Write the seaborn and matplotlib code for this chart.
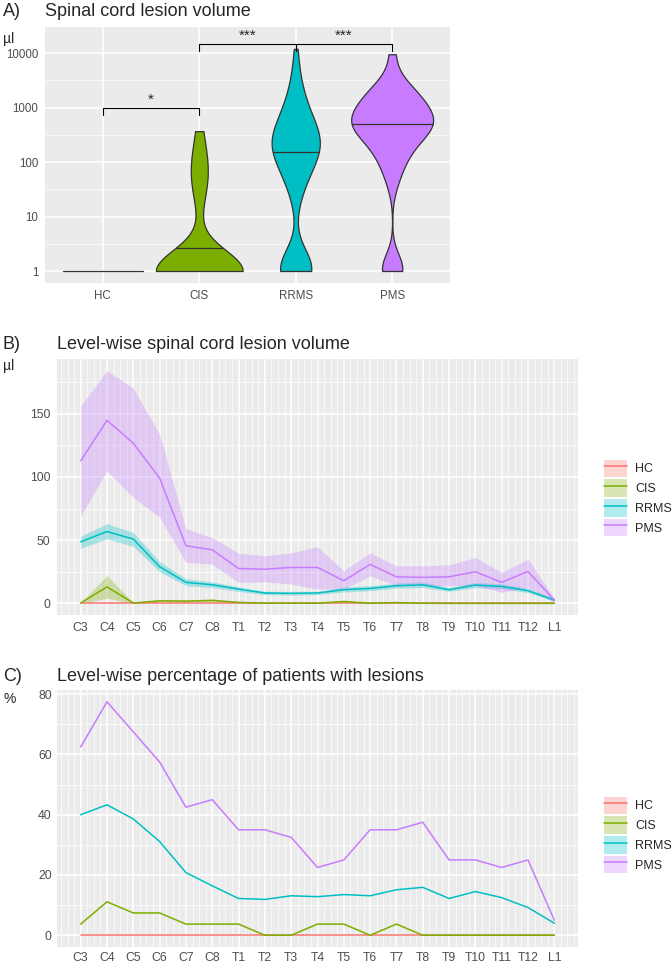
import numpy as np
import pandas as pd
import matplotlib
matplotlib.use("Agg")
import matplotlib.pyplot as plt
import seaborn as sns
from matplotlib.patches import Patch
from matplotlib.lines import Line2D
from matplotlib.ticker import FixedLocator, NullFormatter, FixedFormatter

# ================== DATA ==================
groups = ["HC", "CIS", "RRMS", "PMS"]
group_colors = ["#F8766D", "#7CAE00", "#00BFC4", "#C77CFF"]

# A) total lesion volume per patient (µl, shown on log axis)
hc_vol = [1, 1, 1, 1, 1, 1, 1, 1, 1, 1, 1, 1, 1, 1, 1, 1, 1, 1, 1, 1]
cis_vol = [1, 1, 1, 1, 1, 1, 1, 1, 1, 1, 1, 1, 1, 1, 1, 1, 1, 1, 1, 1, 1,
           22, 40, 63, 90, 140, 370]
rrms_vol = [1, 1, 1, 1, 1, 1, 1, 1, 1, 1, 1, 1, 1, 1, 1, 1, 1.3, 1.5, 1.5, 2, 2,
            18, 25, 32, 38, 45, 50, 56, 63, 70, 80, 85, 90, 100, 105,
            115, 125, 130, 140, 150, 160, 165, 175, 180, 190, 200, 210, 220,
            230, 240, 250, 265, 275, 290, 300, 315, 330, 355, 380, 405, 435,
            470, 500, 550, 600, 660, 720, 800, 900, 1000, 1100, 1250, 1500,
            1800, 2200, 2800, 4000, 6300, 12000]
pms_vol = [1, 1, 1, 1.5,
           40, 70, 100, 125, 160, 200, 240, 280, 315, 355, 400, 425, 455, 490,
           525, 560, 600, 645, 710, 795, 890, 1000, 1120, 1260, 1410, 1585,
           1800, 2100, 2500, 3000, 9550]
vol_medians = [1, 2.7, 150, 500]

sig_pairs = [("HC", "CIS"), ("CIS", "RRMS"), ("RRMS", "PMS")]
sig_labels = ["*", "***", "***"]
sig_levels = [1000, 15000, 15000]

# B) / C) level-wise values
levels = ["C3", "C4", "C5", "C6", "C7", "C8", "T1", "T2", "T3", "T4", "T5",
          "T6", "T7", "T8", "T9", "T10", "T11", "T12", "L1"]

hc_mean = [0, 0, 0, 0, 0, 0, 0, 0, 0, 0, 0, 0, 0, 0, 0, 0, 0, 0, 0]
hc_lo = [0, 0, 0, 0, 0, 0, 0, 0, 0, 0, 0, 0, 0, 0, 0, 0, 0, 0, 0]
hc_hi = [0, 0, 0, 0, 0, 0, 0, 0, 0, 0, 0, 0, 0, 0, 0, 0, 0, 0, 0]

cis_mean = [0.3, 13, 0.3, 2, 1.8, 2.3, 0.8, 0.1, 0.1, 0.1, 1.5, 0.1, 0.6, 0.1, 0, 0, 0, 0, 0]
cis_lo = [0, 4, 0, 1, 1, 1.5, 0.3, 0, 0, 0, 0.5, 0, 0.1, 0, 0, 0, 0, 0, 0]
cis_hi = [0.6, 22, 0.6, 3, 2.8, 3.5, 1.3, 0.2, 0.2, 0.2, 2.5, 0.2, 1.2, 0.2, 0, 0, 0, 0, 0]

rrms_mean = [48.7, 56.8, 50.8, 29, 16.6, 14.7, 11.3, 8.2, 7.9, 8.2, 10.8, 11.8,
             13.9, 14.7, 10.8, 14.5, 13.4, 10, 2.6]
rrms_lo = [43.5, 51, 45, 25, 14, 12.5, 9.5, 7, 6.5, 7, 9, 10, 12, 12.5, 9.5, 12.5, 11.5, 8.5, 1.5]
rrms_hi = [53, 63, 56, 33, 19.5, 17, 13, 9.5, 9.5, 9.5, 13, 14, 16, 17, 12.5, 16.5, 15.5, 12, 3.5]

pms_mean = [112.6, 144.7, 126.6, 99, 45.5, 42.4, 27.6, 27, 28.4, 28.4, 17.9, 30.8,
            21, 20.5, 21, 25, 16.6, 25.3, 2.6]
pms_lo = [69, 104.7, 83.7, 68, 32.4, 31, 16.6, 17, 15.3, 11.3, 11.3, 21.8, 14, 14,
          14, 14, 8.7, 12.6, 0.8]
pms_hi = [156, 184, 170, 133.7, 59, 52, 39.7, 37.6, 40, 44.7, 25.8, 40, 29.7, 29.7,
          30.5, 36.3, 24.5, 35, 4]

hc_pct = [0, 0, 0, 0, 0, 0, 0, 0, 0, 0, 0, 0, 0, 0, 0, 0, 0, 0, 0]
cis_pct = [3.7, 11.1, 7.4, 7.4, 3.7, 3.7, 3.7, 0, 0, 3.7, 3.7, 0, 3.7, 0, 0, 0, 0, 0, 0]
rrms_pct = [40, 43.3, 38.6, 31.1, 20.8, 16.4, 12.2, 11.9, 13.1, 12.8, 13.5, 13.1,
            15.1, 15.9, 12.2, 14.5, 12.5, 9.2, 4]
pms_pct = [62.5, 77.5, 67.5, 57.5, 42.5, 45, 35, 35, 32.5, 22.5, 25, 35, 35, 37.5,
           25, 25, 22.5, 25, 5]

# ================== STYLE ==================
sns.set_theme(style="darkgrid")
plt.rcParams["font.family"] = ["Liberation Sans", "DejaVu Sans"]

W, H = 672, 965
fig = plt.figure(figsize=(W / 100, H / 100), dpi=100)


def box(left, top, right, bottom):
    return [left / W, 1 - bottom / H, (right - left) / W, (bottom - top) / H]


def fpos(x, y):
    return (x / W, 1 - y / H)


def style_axes(ax, size, pad=2):
    ax.set_facecolor("#EBEBEB")
    for s in ax.spines.values():
        s.set_visible(False)
    ax.grid(which="major", color="white", lw=1.1)
    ax.grid(which="minor", color="white", lw=0.5)
    ax.tick_params(which="major", length=2.8, width=0.8, color="#333333",
                   labelcolor="#4D4D4D", labelsize=size, pad=pad)
    ax.tick_params(which="minor", length=0)
    ax.set_axisbelow(True)


# ================== PANEL A ==================
axA = fig.add_axes(box(45, 27, 450, 283))
vol_df = pd.DataFrame({
    "group": ["HC"] * len(hc_vol) + ["CIS"] * len(cis_vol)
             + ["RRMS"] * len(rrms_vol) + ["PMS"] * len(pms_vol),
    "vol": hc_vol + cis_vol + rrms_vol + pms_vol,
})
violin_widths = [0.83, 0.9, 0.5, 0.85]
bw_adj = [1, 0.9, 0.7, 0.55]

for i, g in enumerate(groups):
    sub = vol_df[vol_df["group"] == g]
    n_before = len(axA.collections)
    sns.violinplot(data=sub, x="group", y="vol", order=groups,
                   color=group_colors[i], saturation=1, width=violin_widths[i],
                   bw_adjust=bw_adj[i], cut=0, density_norm="width", inner=None,
                   linewidth=0.9, linecolor="#333333", log_scale=True, ax=axA)
    if len(axA.collections) > n_before:
        verts = axA.collections[-1].get_paths()[0].vertices
        right = verts[verts[:, 0] > i]
        right = right[np.argsort(right[:, 1])]
        half = np.interp(np.log10(vol_medians[i]), np.log10(right[:, 1]), right[:, 0] - i)
        axA.plot([i - half, i + half], [vol_medians[i], vol_medians[i]],
                 color="#333333", lw=0.9)

for (a, b), lab, lev in zip(sig_pairs, sig_labels, sig_levels):
    xa, xb = groups.index(a), groups.index(b)
    axA.plot([xa, xa, xb, xb], [lev * 0.72, lev, lev, lev * 0.72],
             color="black", lw=0.8)
    axA.text((xa + xb) / 2, lev * 1.02, lab, ha="center", va="bottom",
             fontsize=11)

axA.set_yscale("log")
axA.set_xlim(-0.6, 3.6)
axA.set_ylim(10 ** -0.22, 10 ** 4.48)
axA.yaxis.set_major_locator(FixedLocator([1, 10, 100, 1000, 10000]))
axA.yaxis.set_major_formatter(FixedFormatter(["1", "10", "100", "1000", "10000"]))
axA.yaxis.set_minor_locator(FixedLocator([10 ** -0.5 * 10 ** k for k in range(0, 6)]))
axA.yaxis.set_minor_formatter(NullFormatter())
axA.set_xlabel("")
axA.set_ylabel("")
style_axes(axA, 8.3)

fig.text(*fpos(3, 16), "A)", fontsize=13, va="baseline")
fig.text(*fpos(45, 16), "Spinal cord lesion volume", fontsize=13, va="baseline")
fig.text(*fpos(3, 43), "µl", fontsize=10, va="baseline")


# ================== PANEL B / C ==================
def level_panel(ax, series, ribbons, ylim, yticks, yminor, pad):
    x = np.arange(len(levels))
    for (lo, hi), col in zip(ribbons, group_colors):
        ax.fill_between(x, lo, hi, color=col, alpha=0.3, lw=0)
    long = pd.DataFrame({
        "level": list(x) * len(groups),
        "value": sum(series, []),
        "group": sum([[g] * len(levels) for g in groups], []),
    })
    sns.lineplot(data=long, x="level", y="value", hue="group", hue_order=groups,
                 palette=group_colors, errorbar=None, lw=1.1, legend=False, ax=ax)
    ax.set_xlim(-0.9, len(levels) - 0.1)
    ax.set_ylim(*ylim)
    ax.xaxis.set_major_locator(FixedLocator(list(x)))
    ax.xaxis.set_major_formatter(FixedFormatter(levels))
    ax.xaxis.set_minor_locator(FixedLocator(
        [p + f for p in range(-1, len(levels)) for f in (0.25, 0.5, 0.75)]))
    ax.yaxis.set_major_locator(FixedLocator(yticks))
    ax.yaxis.set_minor_locator(FixedLocator(yminor))
    ax.set_xlabel("")
    ax.set_ylabel("")
    style_axes(ax, 8.8, pad)


def level_legend(center_y):
    handles = [(Patch(facecolor=c, alpha=0.3, lw=0), Line2D([], [], color=c, lw=1.1))
               for c in group_colors]
    fig.legend(handles, groups, loc="center left", bbox_to_anchor=fpos(604, center_y),
               frameon=False, fontsize=9, handlelength=1.8, handleheight=1.75,
               labelspacing=0.2, handletextpad=0.7, borderpad=0, borderaxespad=0)


axB = fig.add_axes(box(57, 359, 578, 615))
level_panel(axB, [hc_mean, cis_mean, rrms_mean, pms_mean],
            [(hc_lo, hc_hi), (cis_lo, cis_hi), (rrms_lo, rrms_hi), (pms_lo, pms_hi)],
            (-9.2, 193.2), [0, 50, 100, 150], [25, 75, 125, 175], 2)
fig.text(*fpos(3, 349), "B)", fontsize=13, va="baseline")
fig.text(*fpos(57, 349), "Level-wise spinal cord lesion volume", fontsize=13,
         va="baseline")
fig.text(*fpos(3, 370), "µl", fontsize=10, va="baseline")
level_legend(498)

axC = fig.add_axes(box(57, 690, 578, 947))
level_panel(axC, [hc_pct, cis_pct, rrms_pct, pms_pct],
            [(hc_pct, hc_pct), (cis_pct, cis_pct), (rrms_pct, rrms_pct), (pms_pct, pms_pct)],
            (-3.9, 81.4), [0, 20, 40, 60, 80], [10, 30, 50, 70], 1)
fig.text(*fpos(3, 681), "C)", fontsize=13, va="baseline")
fig.text(*fpos(57, 681), "Level-wise percentage of patients with lesions",
         fontsize=13, va="baseline")
fig.text(*fpos(3, 703), "%", fontsize=10, va="baseline")
level_legend(835)

fig.savefig("out.png", dpi=100)
